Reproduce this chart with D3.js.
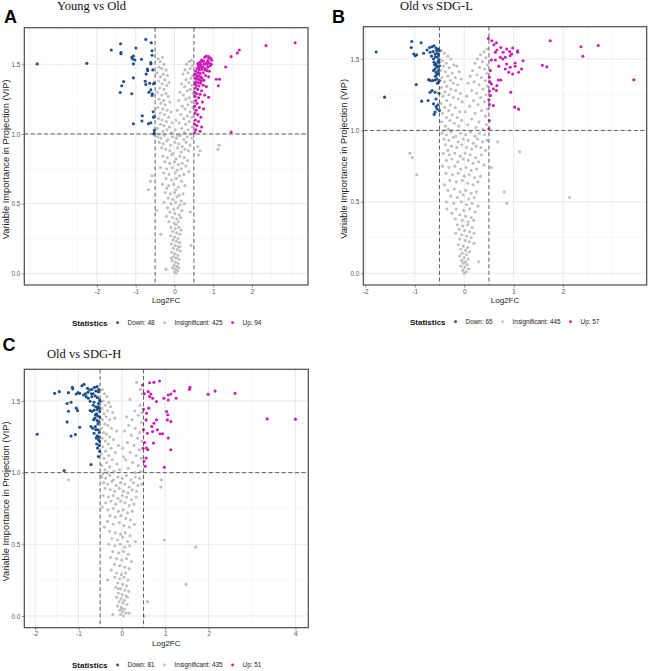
<!DOCTYPE html>
<html>
<head>
<meta charset="utf-8">
<script src="https://cdn.jsdelivr.net/npm/d3@7"></script>
<style>
  body { margin: 0; background: #fff; }
  svg { display: block; }
</style>
</head>
<body>
<script>
// ---------- data ([log2FC, VIP]) ----------
const letters = ["A", "B", "C"];
const titles = ["Young vs Old", "Old vs SDG-L", "Old vs SDG-H"];
const groups = ["Down", "Insignificant", "Up"];
const colours = ["#1D4F8C", "#BFBFBF", "#CC1CBA"];

const countsA = [48, 425, 94];
const countsB = [65, 445, 57];
const countsC = [81, 435, 51];

const xTicksA = [-2, -1, 0, 1, 2];
const xTicksB = [-2, -1, 0, 1, 2];
const xTicksC = [-2, -1, 0, 1, 2, 4];
const yTicks = [0, 0.5, 1, 1.5];

const fcCut = 0.5;
const vipCut = 1;

const downA = [[-3.54,1.503],[-2.26,1.507],[-1.63,1.603],[-1.39,1.648],[-1.38,1.584],[-1.38,1.576],[-0.995,1.617],[-0.74,1.679],[-0.60,1.655],[-0.58,1.598],
  [-0.58,1.565],[-1.10,1.55],[-1.08,1.538],[-1.06,1.56],[-1.02,1.531],[-0.85,1.536],[-0.70,1.467],[-0.69,1.455],[-0.61,1.512],[-0.61,1.503],
  [-1.06,1.503],[-1.31,1.376],[-1.36,1.346],[-1.40,1.298],[-1.06,1.403],[-1.10,1.289],[-0.755,1.379],[-0.74,1.355],[-0.64,1.364],[-0.54,1.36],
  [-0.52,1.365],[-0.61,1.317],[-0.57,1.289],[-0.58,1.276],[-0.83,1.131],[-0.84,1.093],[-1.06,1.074],[-0.67,1.074],[-0.61,1.081],[-0.54,1.121],
  [-0.52,1.124],[-0.52,1.026],[-0.52,1.007],[-0.53,1.0],[-0.73,1.43],[-0.56,1.46],[-0.66,1.30],[-0.55,1.16]];

const upA = [[3.11,1.655],[2.36,1.634],[1.67,1.603],[1.62,1.581],[1.46,1.555],[1.32,1.481],[1.075,1.393],[1.16,1.393],[1.13,1.346],[1.46,1.014],[0.88,1.264],
  [0.82,1.56],[0.88,1.555],[0.78,1.55],[0.93,1.545],[0.96,1.53],[0.70,1.53],[0.72,1.52],[0.85,1.52],[0.90,1.51],[0.65,1.515],[0.76,1.50],[0.80,1.505],
  [0.95,1.50],[0.62,1.49],[0.68,1.485],[0.73,1.48],[0.86,1.48],[0.58,1.47],[0.64,1.46],[0.70,1.465],[0.78,1.46],[0.84,1.455],[0.90,1.45],[0.55,1.45],
  [0.60,1.44],[0.66,1.435],[0.74,1.44],[0.52,1.43],[0.57,1.42],[0.62,1.415],[0.68,1.41],[0.80,1.42],[0.88,1.41],[0.53,1.40],[0.58,1.395],[0.64,1.39],
  [0.71,1.40],[0.76,1.385],[0.55,1.375],[0.60,1.37],[0.67,1.365],[0.52,1.36],[0.56,1.35],[0.63,1.345],[0.74,1.35],[0.82,1.34],[0.54,1.33],[0.60,1.32],
  [0.70,1.31],[0.52,1.30],[0.57,1.29],[0.66,1.285],[0.78,1.28],[0.53,1.27],[0.62,1.26],[0.55,1.24],[0.72,1.23],[0.58,1.22],[0.52,1.20],[0.64,1.19],
  [0.56,1.17],[0.75,1.18],[0.53,1.15],[0.60,1.14],[0.68,1.12],[0.54,1.10],[0.62,1.09],[0.52,1.07],[0.58,1.06],[0.70,1.05],[0.55,1.03],[0.66,1.02],
  [0.52,1.01],[0.60,1.505],[0.67,1.50],[0.75,1.525],[0.87,1.535],[0.92,1.49],[0.79,1.47],[0.84,1.50],[0.63,1.475],[0.57,1.40],[0.69,1.38]];

const insigA = [[-0.42,1.54],[-0.37,1.52],[-0.31,1.55],[-0.27,1.50],[-0.40,1.48],[-0.33,1.47],[-0.22,1.46],[-0.45,1.44],[-0.29,1.43],[-0.36,1.41],
  [-0.18,1.42],[-0.25,1.39],[-0.41,1.38],[-0.32,1.36],[-0.20,1.35],[-0.14,1.37],[-0.38,1.33],[-0.27,1.32],[-0.44,1.30],[-0.22,1.29],[-0.33,1.28],
  [-0.16,1.27],[-0.40,1.25],[-0.28,1.24],[-0.35,1.22],[-0.12,1.23],[-0.24,1.21],[-0.43,1.19],[-0.30,1.18],[-0.19,1.17],[-0.37,1.15],[-0.09,1.16],
  [-0.26,1.14],[-0.15,1.12],[-0.41,1.11],[-0.32,1.10],[-0.21,1.09],[-0.06,1.08],[-0.36,1.07],[-0.27,1.06],[-0.13,1.05],[-0.44,1.04],[-0.19,1.03],
  [-0.30,1.02],[-0.08,1.01],[-0.38,1.00],
  [0.44,1.53],[0.38,1.52],[0.31,1.50],[0.46,1.49],[0.40,1.47],[0.27,1.46],[0.35,1.44],[0.47,1.42],[0.22,1.43],[0.42,1.40],[0.30,1.39],[0.37,1.37],
  [0.45,1.35],[0.18,1.36],[0.26,1.34],[0.41,1.32],[0.33,1.31],[0.48,1.29],[0.14,1.30],[0.23,1.28],[0.38,1.26],[0.29,1.25],[0.44,1.23],[0.11,1.24],
  [0.35,1.21],[0.20,1.20],[0.47,1.19],[0.27,1.18],[0.40,1.16],[0.07,1.17],[0.16,1.14],[0.33,1.13],[0.45,1.12],[0.24,1.11],[0.04,1.10],[0.38,1.09],
  [0.12,1.08],[0.29,1.07],[0.46,1.05],[0.19,1.04],[0.35,1.03],[0.02,1.03],[0.26,1.01],[0.42,1.00],[0.09,0.99],
  [-0.43,0.98],[-0.35,0.97],[-0.26,0.99],[-0.17,0.96],[-0.05,0.98],[0.05,0.97],[0.15,0.99],[0.24,0.96],[0.33,0.98],[0.45,0.97],[-0.39,0.94],
  [-0.29,0.93],[-0.20,0.95],[-0.10,0.92],[0.01,0.94],[0.11,0.93],[0.20,0.91],[0.30,0.94],[0.40,0.92],[-0.33,0.90],[-0.23,0.89],[-0.12,0.88],
  [0.08,0.90],[0.17,0.87],[0.27,0.89],[0.36,0.88],[-0.04,0.86],
  [-0.30,0.84],[-0.18,0.83],[-0.07,0.85],[0.04,0.82],[0.14,0.84],[0.25,0.83],[0.34,0.81],[-0.25,0.80],[-0.12,0.79],[0.00,0.80],[0.10,0.78],
  [0.20,0.79],[0.29,0.77],[-0.36,0.76],[-0.20,0.75],[-0.06,0.76],[0.07,0.74],[0.17,0.75],[0.37,0.73],[-0.28,0.72],[-0.14,0.71],[0.02,0.72],
  [0.13,0.70],[0.24,0.71],[-0.22,0.68],[-0.08,0.67],[0.05,0.68],[0.18,0.66],[-0.31,0.64],[-0.15,0.63],[-0.02,0.64],[0.10,0.62],[0.27,0.63],
  [-0.20,0.61],[0.04,0.60],
  [-0.24,0.58],[-0.11,0.57],[0.00,0.58],[0.12,0.56],[0.22,0.57],[-0.16,0.54],[-0.05,0.53],[0.07,0.55],[0.17,0.52],[-0.27,0.51],[-0.09,0.50],
  [0.03,0.51],[0.14,0.49],[0.25,0.50],[-0.18,0.47],[-0.02,0.46],[0.09,0.47],[0.19,0.45],[-0.12,0.44],[0.01,0.43],[0.12,0.42],[-0.21,0.41],
  [-0.06,0.40],[0.06,0.39],[0.16,0.40],[-0.14,0.37],[-0.01,0.36],[0.10,0.37],[0.04,0.35],
  [-0.09,0.33],[0.02,0.32],[0.11,0.33],[0.17,0.31],[-0.05,0.30],[0.06,0.29],[0.14,0.28],[-0.10,0.27],[0.00,0.26],[0.09,0.25],[-0.04,0.24],
  [0.05,0.23],[0.13,0.22],[-0.08,0.21],[0.02,0.20],[0.10,0.19],[-0.03,0.18],[0.07,0.17],[0.15,0.16],[-0.07,0.15],[0.01,0.14],[0.09,0.13],
  [-0.02,0.12],[0.05,0.11],[0.12,0.10],[-0.06,0.09],[0.03,0.08],[0.10,0.07],[-0.01,0.06],[0.06,0.05],[-0.05,0.04],[0.02,0.03],[0.08,0.02],
  [0.00,0.01],[0.04,0.00],[0.11,0.04],[-0.08,0.11],[0.14,0.19],
  [-0.67,0.60],[-0.58,0.70],[-0.62,0.66],[0.62,0.85],[0.66,0.88],[1.15,0.92],[1.12,0.89],[0.60,0.91],[0.41,0.44],[0.43,0.20],[-0.22,0.03],
  [-0.46,0.45],[-0.35,0.28]];

const downB = [[-1.78,1.549],[-1.61,1.233],[-1.06,1.623],[-1.07,1.581],[-0.87,1.614],[-1.02,1.535],[-0.99,1.523],[-0.96,1.530],[-0.82,1.540],
  [-0.75,1.563],[-0.70,1.581],[-0.65,1.586],[-0.61,1.593],[-0.57,1.577],[-0.52,1.570],[-0.69,1.547],[-0.63,1.553],[-0.59,1.535],[-0.54,1.540],
  [-0.50,1.558],[-0.97,1.321],[-0.72,1.356],[-0.69,1.349],[-0.59,1.353],[-0.55,1.360],[-0.52,1.337],[-0.50,1.349],[-0.62,1.50],[-0.61,1.477],
  [-0.57,1.465],[-0.54,1.442],[-0.59,1.430],[-0.52,1.419],[-0.57,1.407],[-0.55,1.391],[-0.50,1.453],[-0.51,1.477],[-0.58,1.516],[-0.54,1.512],
  [-0.51,1.495],[-0.86,1.205],[-0.73,1.209],[-0.69,1.267],[-0.65,1.279],[-0.59,1.267],[-0.62,1.186],[-0.57,1.167],[-0.55,1.151],[-0.59,1.128],
  [-0.61,1.112],[-0.50,1.140],[-0.53,1.48],[-0.56,1.45],[-0.60,1.46],[-0.52,1.40],[-0.58,1.38],[-0.54,1.33],[-0.62,1.42],[-0.66,1.52],
  [-0.52,1.53],[-0.56,1.56],[-0.64,1.35],[-0.51,1.26],[-0.53,1.18],[-0.57,1.22]];

const upB = [[0.49,1.644],[0.56,1.628],[0.65,1.614],[0.74,1.581],[0.66,1.563],[0.63,1.547],[0.79,1.547],[0.86,1.570],[0.98,1.577],[0.92,1.553],
  [0.96,1.535],[1.08,1.558],[1.08,1.547],[0.93,1.523],[0.83,1.512],[0.73,1.512],[0.63,1.493],[0.55,1.493],[1.19,1.488],[1.03,1.472],[0.86,1.465],
  [0.83,1.430],[0.90,1.407],[0.98,1.395],[0.93,1.442],[1.03,1.449],[1.10,1.407],[1.16,1.430],[0.53,1.419],[0.51,1.372],[0.55,1.326],[0.69,1.353],
  [0.74,1.353],[0.66,1.314],[0.59,1.291],[0.65,1.279],[0.51,1.274],[0.53,1.244],[0.50,1.214],[0.51,1.181],[0.59,1.174],[0.94,1.267],[1.02,1.163],
  [1.10,1.149],[0.51,1.07],[0.50,1.012],[1.74,1.628],[2.36,1.586],[2.40,1.519],[2.71,1.595],[1.58,1.456],[1.67,1.445],[3.43,1.354],
  [0.60,1.60],[0.70,1.45],[0.78,1.50],[0.52,1.34]];

const insigB = [[-0.46,1.56],[-0.40,1.54],[-0.33,1.52],[-0.44,1.49],[-0.27,1.50],[-0.36,1.47],[-0.21,1.46],[-0.42,1.45],[-0.30,1.44],[-0.15,1.45],
  [-0.47,1.42],[-0.38,1.41],[-0.24,1.40],[-0.10,1.41],[-0.33,1.38],[-0.45,1.37],[-0.18,1.37],[-0.28,1.35],[-0.40,1.34],[-0.06,1.36],[-0.22,1.33],
  [-0.35,1.31],[-0.13,1.32],[-0.46,1.30],[-0.27,1.29],[-0.39,1.27],[-0.17,1.28],[-0.31,1.25],[-0.08,1.26],[-0.43,1.24],[-0.22,1.23],[-0.35,1.21],
  [-0.12,1.22],[-0.47,1.19],[-0.28,1.18],[-0.04,1.20],[-0.39,1.16],[-0.18,1.16],[-0.31,1.14],[-0.09,1.13],[-0.44,1.12],[-0.24,1.11],[-0.36,1.09],
  [-0.14,1.09],[-0.29,1.07],[-0.46,1.06],[-0.05,1.07],[-0.20,1.05],[-0.38,1.03],[-0.11,1.03],[-0.32,1.01],[-0.25,1.00],[-0.43,1.00],
  [0.46,1.57],[0.40,1.55],[0.33,1.53],[0.44,1.51],[0.27,1.50],[0.37,1.48],[0.47,1.46],[0.22,1.47],[0.31,1.44],[0.41,1.43],[0.17,1.42],[0.46,1.40],
  [0.26,1.39],[0.35,1.37],[0.12,1.38],[0.43,1.35],[0.20,1.34],[0.30,1.32],[0.47,1.31],[0.08,1.33],[0.38,1.29],[0.15,1.28],[0.25,1.26],[0.44,1.25],
  [0.33,1.23],[0.05,1.24],[0.19,1.21],[0.41,1.20],[0.28,1.18],[0.11,1.17],[0.47,1.15],[0.35,1.14],[0.22,1.12],[0.02,1.13],[0.43,1.10],[0.15,1.08],
  [0.30,1.06],[0.45,1.04],[0.07,1.04],[0.24,1.02],[0.38,1.01],
  [-0.45,0.98],[-0.36,0.97],[-0.27,0.99],[-0.17,0.96],[-0.07,0.98],[0.03,0.97],[0.13,0.99],[0.22,0.96],[0.31,0.98],[0.41,0.97],[-0.41,0.94],
  [-0.31,0.93],[-0.22,0.95],[-0.12,0.92],[-0.02,0.94],[0.08,0.93],[0.18,0.91],[0.27,0.94],[0.37,0.92],[0.46,0.93],[-0.38,0.90],[-0.26,0.89],
  [-0.15,0.88],[-0.05,0.90],[0.05,0.88],[0.15,0.87],[0.24,0.89],[0.34,0.88],[0.43,0.86],[-0.33,0.86],
  [-0.42,0.84],[-0.30,0.83],[-0.19,0.84],[-0.08,0.82],[0.02,0.84],[0.12,0.83],[0.23,0.81],[0.35,0.83],[-0.36,0.79],[-0.25,0.80],[-0.13,0.78],
  [-0.02,0.80],[0.08,0.79],[0.18,0.77],[0.29,0.78],[0.40,0.76],[-0.44,0.75],[-0.31,0.74],[-0.19,0.75],[-0.07,0.73],[0.04,0.74],[0.14,0.72],
  [0.25,0.73],[-0.37,0.70],[-0.24,0.69],[-0.12,0.70],[0.00,0.68],[0.10,0.69],[0.21,0.67],[0.33,0.68],[-0.29,0.65],[-0.16,0.64],[-0.04,0.65],
  [0.07,0.63],[0.18,0.62],[-0.40,0.62],[0.28,0.64],
  [-0.33,0.58],[-0.20,0.59],[-0.08,0.57],[0.03,0.58],[0.14,0.56],[0.25,0.57],[-0.27,0.54],[-0.14,0.53],[-0.02,0.55],[0.09,0.52],[0.20,0.53],
  [-0.36,0.50],[-0.21,0.49],[-0.06,0.50],[0.05,0.48],[0.16,0.49],[0.28,0.47],[-0.16,0.45],[-0.01,0.44],[0.11,0.45],[0.22,0.43],[-0.25,0.42],
  [-0.09,0.41],[0.03,0.40],[0.14,0.39],[-0.18,0.38],[-0.04,0.37],[0.08,0.36],[0.19,0.37],[-0.35,0.45],
  [-0.14,0.34],[-0.03,0.33],[0.07,0.34],[0.16,0.32],[-0.10,0.31],[0.01,0.30],[0.11,0.29],[-0.17,0.28],[-0.05,0.27],[0.05,0.26],[0.14,0.25],
  [-0.09,0.24],[0.02,0.23],[0.10,0.22],[0.20,0.21],[-0.12,0.20],[-0.02,0.19],[0.07,0.18],[-0.07,0.17],[0.03,0.16],[0.11,0.15],[-0.04,0.14],
  [0.05,0.13],[-0.09,0.12],[0.00,0.11],[0.08,0.10],[-0.05,0.09],[0.03,0.08],[-0.02,0.07],[0.06,0.06],[-0.07,0.05],[0.01,0.04],[0.09,0.03],
  [-0.03,0.02],[0.04,0.01],[0.00,0.00],[0.29,0.08],[0.20,0.28],
  [-1.10,0.84],[-1.05,0.81],[-0.96,0.69],[0.55,0.74],[0.81,0.57],[0.86,0.49],[2.13,0.53],[1.12,0.85],[0.68,0.92]];

const downC = [[-1.95,1.268],[-1.33,1.014],[-1.55,1.553],[-1.44,1.565],[-1.23,1.558],[-1.14,1.595],[-1.13,1.583],[-1.01,1.558],[-0.97,1.553],
  [-0.92,1.606],[-0.87,1.616],[-0.79,1.588],[-0.74,1.576],[-0.69,1.581],[-0.63,1.595],[-0.57,1.600],[-0.54,1.565],[-1.05,1.549],[-0.88,1.542],
  [-0.82,1.530],[-0.77,1.519],[-0.69,1.530],[-0.61,1.535],[-0.56,1.523],[-0.51,1.507],[-0.73,1.498],[-0.64,1.491],[-0.54,1.482],[-0.50,1.498],
  [-1.26,1.482],[-1.17,1.491],[-1.05,1.45],[-1.02,1.433],[-1.23,1.428],[-1.26,1.354],[-0.97,1.317],[-1.07,1.266],[-1.17,1.255],[-0.73,1.433],
  [-0.69,1.426],[-0.64,1.436],[-0.57,1.441],[-0.54,1.459],[-0.51,1.426],[-0.61,1.403],[-0.56,1.396],[-0.51,1.387],[-0.65,1.369],[-0.57,1.363],
  [-0.53,1.357],[-0.71,1.322],[-0.67,1.310],[-0.61,1.322],[-0.55,1.299],[-0.64,1.275],[-0.57,1.257],[-0.53,1.248],[-0.59,1.241],[-0.54,1.229],
  [-0.51,1.218],[-0.56,1.171],[-0.51,1.148],[-0.54,1.113],[-0.71,1.056],[-0.60,1.46],[-0.66,1.47],[-0.52,1.45],[-0.58,1.41],[-0.62,1.38],
  [-0.55,1.34],[-0.60,1.30],[-0.52,1.28],[-0.66,1.55],[-0.60,1.57],[-0.70,1.55],[-0.78,1.56],[-0.84,1.55],[-0.53,1.58],[-0.58,1.20],
  [-0.52,1.19],[-0.56,1.25]];

const upC = [[0.48,1.611],[0.64,1.627],[0.74,1.630],[0.87,1.639],[0.50,1.442],[0.61,1.565],[0.67,1.549],[0.64,1.530],[0.71,1.519],[0.80,1.496],
  [0.97,1.519],[1.07,1.507],[1.13,1.549],[1.21,1.569],[1.07,1.542],[1.25,1.519],[1.57,1.595],[1.56,1.581],[1.99,1.546],[2.15,1.569],[2.61,1.553],
  [3.35,1.375],[4.00,1.373],[0.57,1.414],[0.56,1.368],[0.59,1.275],[0.69,1.322],[0.74,1.345],[0.82,1.299],[0.88,1.271],[0.94,1.271],[1.03,1.426],
  [1.06,1.403],[1.05,1.368],[1.13,1.356],[1.07,1.241],[1.13,1.16],[0.73,1.206],[0.57,1.171],[0.60,1.160],[0.56,1.102],[0.54,1.044],[0.51,1.079],
  [0.98,1.037],[0.80,1.368],[0.71,1.287],[0.52,1.55],[0.50,1.30],[0.53,1.21],[0.62,1.45],[0.49,1.17]];

const insigC = [[-0.45,1.58],[-0.40,1.55],[-0.34,1.53],[-0.43,1.50],[-0.30,1.49],[-0.38,1.47],[-0.46,1.45],[-0.26,1.46],[-0.33,1.43],[-0.41,1.41],
  [-0.21,1.42],[-0.36,1.39],[-0.45,1.37],[-0.28,1.37],[-0.16,1.38],[-0.39,1.34],[-0.32,1.33],[-0.47,1.31],[-0.24,1.31],[-0.42,1.28],[-0.35,1.27],
  [-0.12,1.29],[-0.28,1.25],[-0.45,1.24],[-0.38,1.22],[-0.19,1.23],[-0.31,1.20],[-0.44,1.18],[-0.25,1.17],[-0.08,1.19],[-0.37,1.15],[-0.47,1.13],
  [-0.15,1.14],[-0.30,1.12],[-0.41,1.10],[-0.22,1.09],[-0.35,1.07],[-0.46,1.05],[-0.11,1.06],[-0.28,1.04],[-0.39,1.02],[-0.18,1.01],[-0.44,0.99],
  [-0.33,1.00],[-0.05,1.02],
  [0.34,1.63],[0.19,1.51],[0.42,1.47],[0.30,1.43],[0.11,1.39],[0.38,1.40],[0.24,1.37],[0.45,1.35],[0.16,1.33],[0.31,1.31],[0.41,1.28],[0.06,1.29],
  [0.22,1.26],[0.36,1.24],[0.46,1.22],[0.13,1.21],[0.28,1.19],[0.40,1.16],[0.02,1.17],[0.19,1.14],[0.33,1.12],[0.45,1.10],[0.09,1.09],[0.25,1.07],
  [0.38,1.05],[0.15,1.03],[0.44,1.01],[0.30,1.00],[0.04,1.11],[0.47,1.55],[0.43,1.58],[0.46,1.42],
  [-0.46,0.97],[-0.37,0.96],[-0.28,0.98],[-0.19,0.95],[-0.09,0.97],[0.01,0.96],[0.11,0.98],[0.21,0.95],[0.31,0.97],[0.41,0.96],[-0.42,0.93],
  [-0.33,0.92],[-0.23,0.94],[-0.13,0.91],[-0.03,0.93],[0.07,0.92],[0.17,0.90],[0.27,0.93],[0.37,0.91],[0.46,0.92],[-0.39,0.89],[-0.27,0.88],
  [-0.16,0.87],[-0.06,0.89],[0.04,0.87],[0.14,0.86],[0.24,0.88],[0.34,0.87],
  [-0.43,0.84],[-0.31,0.83],[-0.20,0.84],[-0.09,0.82],[0.01,0.84],[0.11,0.83],[0.22,0.81],[0.33,0.83],[-0.37,0.79],[-0.25,0.80],[-0.14,0.78],
  [-0.03,0.80],[0.07,0.79],[0.17,0.77],[0.28,0.78],[-0.45,0.76],[-0.32,0.74],[-0.20,0.75],[-0.08,0.73],[0.03,0.74],[0.13,0.72],[0.24,0.73],
  [-0.27,0.70],[-0.15,0.69],[-0.02,0.70],[0.09,0.68],[0.20,0.67],[-0.33,0.66],[-0.20,0.64],[-0.06,0.65],[0.05,0.63],[0.17,0.62],[0.29,0.64],
  [-0.40,0.62],[-0.28,0.59],[-0.15,0.58],[-0.03,0.57],[0.08,0.58],[0.19,0.56],[-0.23,0.54],[-0.10,0.53],[0.02,0.55],[0.13,0.52],[0.31,0.52],
  [-0.30,0.50],[-0.16,0.49],[-0.04,0.50],[0.07,0.48],[0.18,0.49],[-0.21,0.45],[-0.07,0.44],[0.04,0.45],[0.15,0.43],[-0.26,0.41],[-0.12,0.40],
  [0.00,0.39],[0.11,0.40],[0.22,0.38],[-0.17,0.36],[-0.05,0.35],[0.07,0.34],[0.17,0.33],[-0.24,0.32],
  [-0.12,0.30],[-0.01,0.29],[0.09,0.30],[-0.16,0.27],[-0.05,0.26],[0.05,0.27],[0.14,0.25],[-0.33,0.25],[-0.09,0.23],[0.02,0.22],[0.11,0.21],
  [-0.14,0.20],[-0.03,0.19],[0.07,0.18],[0.16,0.17],[-0.08,0.16],[0.01,0.15],[0.10,0.14],[-0.12,0.13],[-0.02,0.12],[0.06,0.11],[-0.06,0.10],
  [0.03,0.09],[0.12,0.08],[-0.10,0.07],[-0.01,0.06],[0.07,0.05],[-0.05,0.04],[0.02,0.03],[0.10,0.02],[-0.03,0.01],[0.04,0.00],[-0.21,0.01],
  [0.17,0.02],[0.00,0.05],[-0.08,0.19],[0.13,0.13],
  [0.98,0.53],[1.70,0.48],[1.48,0.22],[0.59,0.10],[0.51,0.00],[-1.23,0.95],[0.90,0.90],[0.91,0.95]];

// ---------- layout ----------
const W = 650, H = 671;
const panels = [
  { letter: letters[0], title: titles[0], down: downA, insig: insigA, up: upA, counts: countsA, xTicks: xTicksA,
    box: { left: 24.3, right: 308, top: 27.7, bottom: 285 }, letterPos: [4, 23.3], titlePos: [57, 10],
    yLabelX: 8.5, legend: [72, 322.7] },
  { letter: letters[1], title: titles[1], down: downB, insig: insigB, up: upB, counts: countsB, xTicks: xTicksB,
    box: { left: 363.3, right: 646.7, top: 26.7, bottom: 285 }, letterPos: [332, 22.7], titlePos: [400, 9.5],
    yLabelX: 346.5, legend: [410, 321.7] },
  { letter: letters[2], title: titles[2], down: downC, insig: insigC, up: upC, counts: countsC, xTicks: xTicksC,
    box: { left: 24.3, right: 308.3, top: 369.3, bottom: 627.7 }, letterPos: [2.5, 350.7], titlePos: [47, 357.7],
    yLabelX: 8.5, legend: [72, 665] }
];

const svg = d3.select("body").append("svg")
  .attr("width", W)
  .attr("height", H)
  .style("font-family", "'Liberation Sans', Arial, sans-serif");

// ggplot-like minor breaks: midpoints between majors, extended one step past each end
function minorBreaks(breaks, domain) {
  const b = breaks.slice();
  const step = b[1] - b[0];
  if (domain[0] < b[0]) b.unshift(b[0] - step);
  if (domain[1] > b[b.length - 1]) b.push(b[b.length - 1] + step);
  const out = [];
  for (let i = 0; i < b.length - 1; i++) out.push(b[i], (b[i] + b[i + 1]) / 2);
  out.push(b[b.length - 1]);
  return out.filter(v => v >= domain[0] && v <= domain[1] && breaks.indexOf(v) < 0);
}

function drawPanel(p) {
  const all = p.down.concat(p.insig, p.up);
  const xe = d3.extent(all, d => d[0]);
  const ye = d3.extent(all, d => d[1]);
  const px = (xe[1] - xe[0]) * 0.05, py = (ye[1] - ye[0]) * 0.05;

  const x = d3.scaleLinear().domain([xe[0] - px, xe[1] + px]).range([p.box.left, p.box.right]);
  const y = d3.scaleLinear().domain([ye[0] - py, ye[1] + py]).range([p.box.bottom, p.box.top]);

  const g = svg.append("g");

  // grid
  const grid = g.append("g");
  grid.selectAll(".vmin").data(minorBreaks(p.xTicks, x.domain())).join("line")
    .attr("x1", d => x(d)).attr("x2", d => x(d)).attr("y1", p.box.top).attr("y2", p.box.bottom)
    .attr("stroke", "#F0F0F0").attr("stroke-width", 0.5);
  grid.selectAll(".hmin").data(minorBreaks(yTicks, y.domain())).join("line")
    .attr("y1", d => y(d)).attr("y2", d => y(d)).attr("x1", p.box.left).attr("x2", p.box.right)
    .attr("stroke", "#F0F0F0").attr("stroke-width", 0.5);
  grid.selectAll(".vmaj").data(p.xTicks).join("line")
    .attr("x1", d => x(d)).attr("x2", d => x(d)).attr("y1", p.box.top).attr("y2", p.box.bottom)
    .attr("stroke", "#E4E4E4").attr("stroke-width", 0.8);
  grid.selectAll(".hmaj").data(yTicks).join("line")
    .attr("y1", d => y(d)).attr("y2", d => y(d)).attr("x1", p.box.left).attr("x2", p.box.right)
    .attr("stroke", "#E4E4E4").attr("stroke-width", 0.8);

  // points: insignificant first, then down / up
  const sets = [[p.insig, colours[1]], [p.down, colours[0]], [p.up, colours[2]]];
  sets.forEach(([pts, col]) => {
    g.append("g").selectAll("circle").data(pts).join("circle")
      .attr("cx", d => x(d[0]))
      .attr("cy", d => y(d[1]))
      .attr("r", 1.55)
      .attr("fill", col);
  });

  // threshold lines
  const dash = g.append("g").attr("stroke", "#4D4D4D").attr("stroke-width", 0.9).attr("stroke-dasharray", "4,2.6");
  dash.selectAll(".vcut").data([-fcCut, fcCut]).join("line")
    .attr("x1", d => x(d)).attr("x2", d => x(d)).attr("y1", p.box.top).attr("y2", p.box.bottom);
  dash.append("line")
    .attr("x1", p.box.left).attr("x2", p.box.right).attr("y1", y(vipCut)).attr("y2", y(vipCut));

  // border
  g.append("rect")
    .attr("x", p.box.left).attr("y", p.box.top)
    .attr("width", p.box.right - p.box.left).attr("height", p.box.bottom - p.box.top)
    .attr("fill", "none").attr("stroke", "#4A4A4A").attr("stroke-width", 1.2);

  // axes
  const xAxis = g.append("g")
    .attr("transform", "translate(0," + p.box.bottom + ")")
    .call(d3.axisBottom(x).tickValues(p.xTicks).tickFormat(d => String(d)).tickSize(2.5).tickPadding(1.5));
  const yAxis = g.append("g")
    .attr("transform", "translate(" + p.box.left + ",0)")
    .call(d3.axisLeft(y).tickValues(yTicks).tickFormat(d3.format(".1f")).tickSize(2.5).tickPadding(1.5));
  [xAxis, yAxis].forEach(a => {
    a.select(".domain").remove();
    a.selectAll(".tick line").attr("stroke", "#4A4A4A").attr("stroke-width", 0.6);
    a.selectAll(".tick text").attr("fill", "#555").style("font-size", "6.4px")
      .style("font-family", "'Liberation Sans', Arial, sans-serif");
  });

  // axis titles
  g.append("text")
    .attr("x", (p.box.left + p.box.right) / 2)
    .attr("y", p.box.bottom + 18)
    .attr("text-anchor", "middle")
    .style("font-size", "8px")
    .attr("fill", "#222")
    .text("Log2FC");
  g.append("text")
    .attr("transform", "translate(" + p.yLabelX + "," + ((p.box.top + p.box.bottom) / 2 + 3) + ") rotate(-90)")
    .attr("text-anchor", "middle")
    .style("font-size", "9.3px")
    .attr("fill", "#222")
    .text("Variable Importance in Projection (VIP)");

  // panel letter and title
  g.append("text")
    .attr("x", p.letterPos[0]).attr("y", p.letterPos[1])
    .style("font-size", "18px").style("font-weight", "bold")
    .style("font-family", "'Liberation Sans', Arial, sans-serif")
    .attr("fill", "#000")
    .text(p.letter);
  g.append("text")
    .attr("x", p.titlePos[0]).attr("y", p.titlePos[1])
    .style("font-size", "12.5px")
    .style("font-family", "'Liberation Serif', 'Times New Roman', serif")
    .attr("fill", "#111")
    .text(p.title);

  // legend
  const lg = g.append("g").attr("transform", "translate(" + p.legend[0] + "," + p.legend[1] + ")");
  const head = lg.append("text")
    .attr("x", 0).attr("dy", "0.35em")
    .style("font-size", "8px").style("font-weight", "bold")
    .attr("fill", "#111")
    .text("Statistics");
  let cur = head.node().getComputedTextLength();
  groups.forEach((grp, i) => {
    const cx = cur + 10;
    lg.append("circle").attr("cx", cx).attr("cy", 0).attr("r", 1.4).attr("fill", colours[i]);
    const t = lg.append("text")
      .attr("x", cx + 10).attr("dy", "0.35em")
      .style("font-size", "6.4px")
      .attr("fill", "#222")
      .text(grp + ": " + p.counts[i]);
    cur = cx + 10 + t.node().getComputedTextLength();
  });
}

panels.forEach(drawPanel);
</script>
</body>
</html>
